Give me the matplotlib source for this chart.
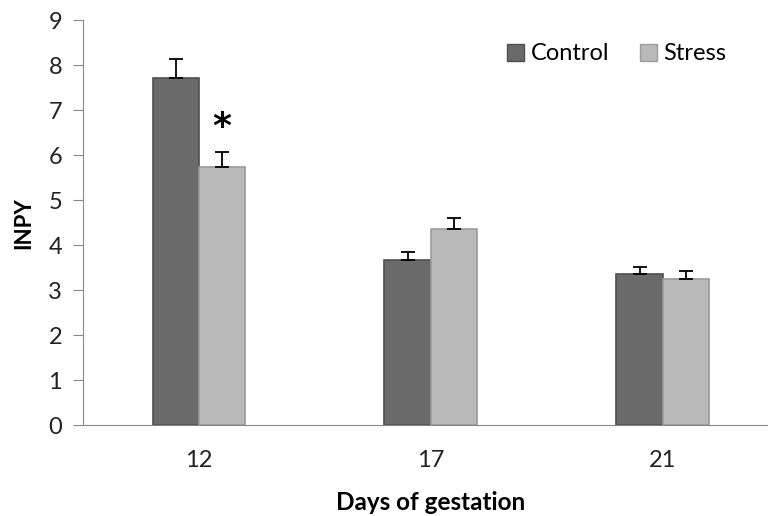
import matplotlib
matplotlib.use("Agg")
import matplotlib.pyplot as plt
import numpy as np
from matplotlib.patches import Patch

categories = ["12", "17", "21"]
control = [7.72, 3.67, 3.35]
control_err = [0.41, 0.17, 0.16]
stress = [5.73, 4.36, 3.24]
stress_err = [0.35, 0.24, 0.18]
yticks = [0, 1, 2, 3, 4, 5, 6, 7, 8, 9]

plt.rcParams['font.family'] = ['Lato', 'DejaVu Sans']

fig = plt.figure(figsize=(7.68, 5.16), dpi=100)
ax = fig.add_axes([0.108, 0.176, 1.014 - 0.108, 0.961 - 0.176])

x = np.arange(len(categories))
w = 0.2
c_dark = "#6a6a6a"
c_light = "#b9b9b9"

ax.bar(x - w/2, control, w, color=c_dark, edgecolor="#4f4f4f", linewidth=1.2, zorder=2)
ax.bar(x + w/2, stress, w, color=c_light, edgecolor="#9c9c9c", linewidth=1.2, zorder=2)

ax.errorbar(x - w/2, control, yerr=[[0]*3, control_err], fmt="none", ecolor="black",
            elinewidth=1.3, capsize=4.7, capthick=1.3, zorder=4)
ax.errorbar(x + w/2, stress, yerr=[[0]*3, stress_err], fmt="none", ecolor="black",
            elinewidth=1.3, capsize=4.7, capthick=1.3, zorder=4)

ax.text(x[0] + w/2, 6.62, "*", ha="center", va="center", fontsize=26, fontweight="bold",
        family="DejaVu Sans")

ax.set_xlim(-0.5, 2.5)
ax.set_ylim(0, 9)
ax.set_yticks(yticks)
ax.set_xticks(x)
ax.set_xticklabels(categories)
ax.tick_params(axis="y", length=7, color="#888888", labelsize=17, pad=8, labelcolor="#222222")
ax.tick_params(axis="x", length=0, labelsize=17, pad=18, labelcolor="#222222")

for s in ["top", "right"]:
    ax.spines[s].set_visible(False)
ax.spines["left"].set_color("#888888")
ax.spines["bottom"].set_color("#888888")

ax.set_ylabel("INPY", fontsize=16, fontweight="bold", labelpad=10)
ax.set_xlabel("Days of gestation", fontsize=17.5, fontweight="bold", labelpad=14)

handles = [Patch(facecolor=c_dark, edgecolor="#4f4f4f"), Patch(facecolor=c_light, edgecolor="#9c9c9c")]
ax.legend(handles, ["Control", "Stress"], loc="upper right", bbox_to_anchor=(0.955, 0.995),
          ncol=2, frameon=False, fontsize=17, handlelength=0.75, handleheight=0.75,
          handletextpad=0.25, columnspacing=1.3)

fig.savefig("out.png", dpi=100)
